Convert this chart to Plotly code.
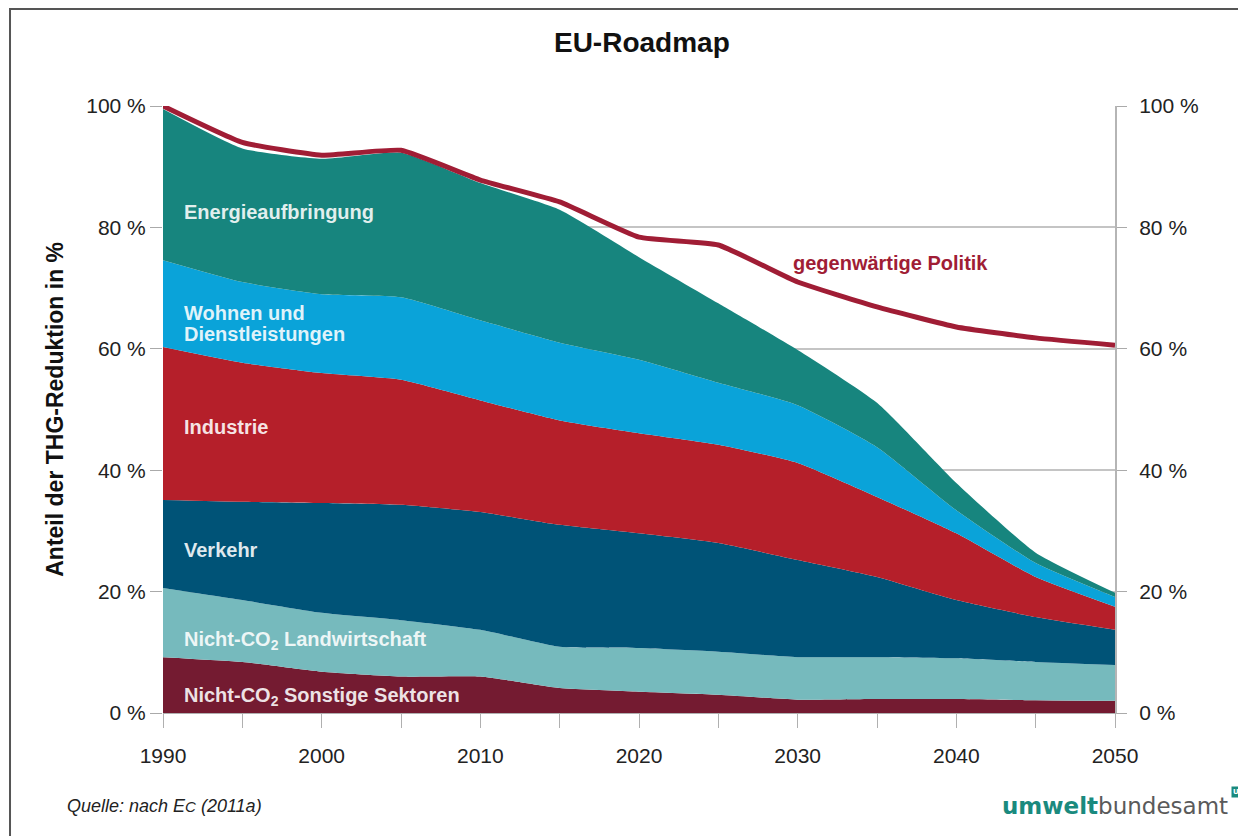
import plotly.graph_objects as go

years = [1990, 1995, 2000, 2005, 2010, 2015, 2020, 2025, 2030, 2035, 2040, 2045, 2050]

# Sektoranteile (in %), von unten nach oben gestapelt
sonstige = [9.2, 8.4, 6.8, 6.0, 6.0, 4.1, 3.5, 3.0, 2.2, 2.3, 2.3, 2.1, 2.0]
landwirtschaft = [11.4, 10.2, 9.7, 9.3, 7.7, 6.8, 7.2, 7.1, 7.0, 6.9, 6.7, 6.3, 5.9]
verkehr = [14.5, 16.2, 18.1, 19.0, 19.4, 20.1, 18.9, 17.9, 16.0, 13.2, 9.6, 7.4, 5.8]
industrie = [25.2, 22.9, 21.4, 20.6, 18.4, 17.2, 16.5, 16.2, 16.0, 13.2, 11.0, 6.6, 3.8]
wohnen = [14.3, 13.3, 13.0, 13.6, 13.2, 12.8, 12.1, 10.2, 9.5, 8.2, 3.8, 2.3, 1.6]
energie = [24.9, 22.0, 22.3, 23.8, 22.6, 21.9, 16.9, 13.1, 9.1, 7.3, 4.5, 1.7, 0.7]

politik = [100, 94.0, 91.9, 92.7, 87.8, 84.2, 78.4, 77.1, 71.0, 66.9, 63.6, 61.8, 60.6]

y_ticks = [0, 20, 40, 60, 80, 100]
y_ticktext = ["0 %", "20 %", "40 %", "60 %", "80 %", "100 %"]

sectors = [
    ("Nicht-CO2 Sonstige Sektoren", sonstige, "#741b31"),
    ("Nicht-CO2 Landwirtschaft", landwirtschaft, "#76babd"),
    ("Verkehr", verkehr, "#005377"),
    ("Industrie", industrie, "#b51f2a"),
    ("Wohnen und Dienstleistungen", wohnen, "#0aa3d9"),
    ("Energieaufbringung", energie, "#17857e"),
]

# Beschriftungen in den Flächen: (Text, Jahr, Anteil)
area_labels = [
    ("Energieaufbringung", 1991.2, 82.5),
    ("Wohnen und", 1991.2, 65.9),
    ("Dienstleistungen", 1991.2, 62.4),
    ("Industrie", 1991.2, 47.1),
    ("Verkehr", 1991.2, 26.9),
    ("Nicht-CO<sub>2</sub> Landwirtschaft", 1991.2, 11.9),
    ("Nicht-CO<sub>2</sub> Sonstige Sektoren", 1991.2, 2.8),
]

fig = go.Figure()
for name, values, color in sectors:
    fig.add_trace(
        go.Scatter(
            x=years,
            y=values,
            name=name,
            mode="lines",
            stackgroup="one",
            line={"width": 0, "shape": "spline", "smoothing": 0.5},
            fillcolor=color,
            showlegend=False,
        )
    )

# Linie auf der rechten Achse, damit diese gezeichnet wird
fig.add_trace(
    go.Scatter(
        x=years,
        y=politik,
        name="gegenwärtige Politik",
        mode="lines",
        yaxis="y2",
        line={"color": "#a01d35", "width": 5, "shape": "spline", "smoothing": 0.4},
        showlegend=False,
    )
)

for text, x, y in area_labels:
    fig.add_annotation(
        x=x, y=y, text=f"<b>{text}</b>", showarrow=False,
        xanchor="left", yanchor="middle", align="left",
        font={"family": "Liberation Sans, Arial", "size": 20,
              "color": "rgba(255,255,255,0.88)"},
    )

fig.add_annotation(
    x=2029.6, y=74.1, text="<b>gegenwärtige Politik</b>", showarrow=False,
    xanchor="left", yanchor="middle",
    font={"family": "Liberation Sans, Arial", "size": 20, "color": "#a01d35"},
)

# Achsentitel links
fig.add_annotation(
    xref="paper", yref="paper", x=-0.130, y=0.5,
    text="<b>Anteil der THG-Reduktion in %</b>", textangle=-90, showarrow=False,
    font={"family": "Liberation Sans, Arial", "size": 23, "color": "#111"},
)

# Quelle und Logo
fig.add_annotation(
    xref="paper", yref="paper", x=-0.103, y=-0.173, xanchor="left",
    text="<i>Quelle: nach E</i><i><span style='font-size:15px'>C</span> (2011a)</i>",
    showarrow=False,
    font={"family": "Liberation Sans, Arial", "size": 18, "color": "#222"},
)
fig.add_annotation(
    xref="paper", yref="paper", x=1.121, y=-0.178, xanchor="right",
    text="<span style='color:#1a8a7e'><b>umwelt</b></span>bundesamt",
    showarrow=False,
    font={"family": "DejaVu Sans", "size": 23, "color": "#5a5a5a"},
)
fig.add_annotation(
    xref="paper", yref="paper", x=1.127, y=-0.14, xanchor="center",
    text="<b>U</b>", showarrow=False, bgcolor="#1a8a7e", borderpad=1,
    font={"family": "DejaVu Sans", "size": 7, "color": "white"},
)

# Rahmen
fig.add_shape(
    type="rect", xref="paper", yref="paper",
    x0=-0.1607, x1=1.15, y0=-0.22, y1=1.16,
    line={"color": "#555", "width": 2}, layer="below",
)

fig.update_layout(
    width=1238,
    height=828,
    margin={"l": 155, "r": 131, "t": 98, "b": 123},
    paper_bgcolor="white",
    plot_bgcolor="white",
    title={
        "text": "<b>EU-Roadmap</b>", "x": 0.512, "y": 0.959,
        "xanchor": "center", "yanchor": "middle",
        "font": {"family": "Liberation Sans, Arial", "size": 28, "color": "#111"},
    },
    font={"family": "Liberation Sans, Arial", "size": 21, "color": "#222"},
    xaxis={
        "range": [1990, 2050],
        "tickvals": list(range(1990, 2051, 10)),
        "ticks": "outside", "ticklen": 14, "tickcolor": "#b0b0b0",
        "minor": {"dtick": 5, "ticks": "outside", "ticklen": 14, "tickcolor": "#b0b0b0"},
        "showline": True, "linecolor": "#b0b0b0", "linewidth": 1,
        "showgrid": False, "zeroline": False,
        "ticklabelstandoff": 10,
    },
    yaxis={
        "range": [0, 100],
        "tickvals": y_ticks, "ticktext": y_ticktext,
        "ticks": "outside", "ticklen": 12, "tickcolor": "#aaa",
        "showgrid": True, "gridcolor": "#c4c4c4", "gridwidth": 2,
        "zeroline": False, "showline": False,
    },
    yaxis2={
        "range": [0, 100], "overlaying": "y", "side": "right",
        "tickvals": y_ticks, "ticktext": y_ticktext,
        "ticks": "outside", "ticklen": 10, "tickcolor": "#aaa",
        "showline": True, "linecolor": "#b5b5b5", "linewidth": 2,
        "showgrid": False, "zeroline": False, "ticklabelstandoff": 8,
    },
)

fig.write_html("out.html")
